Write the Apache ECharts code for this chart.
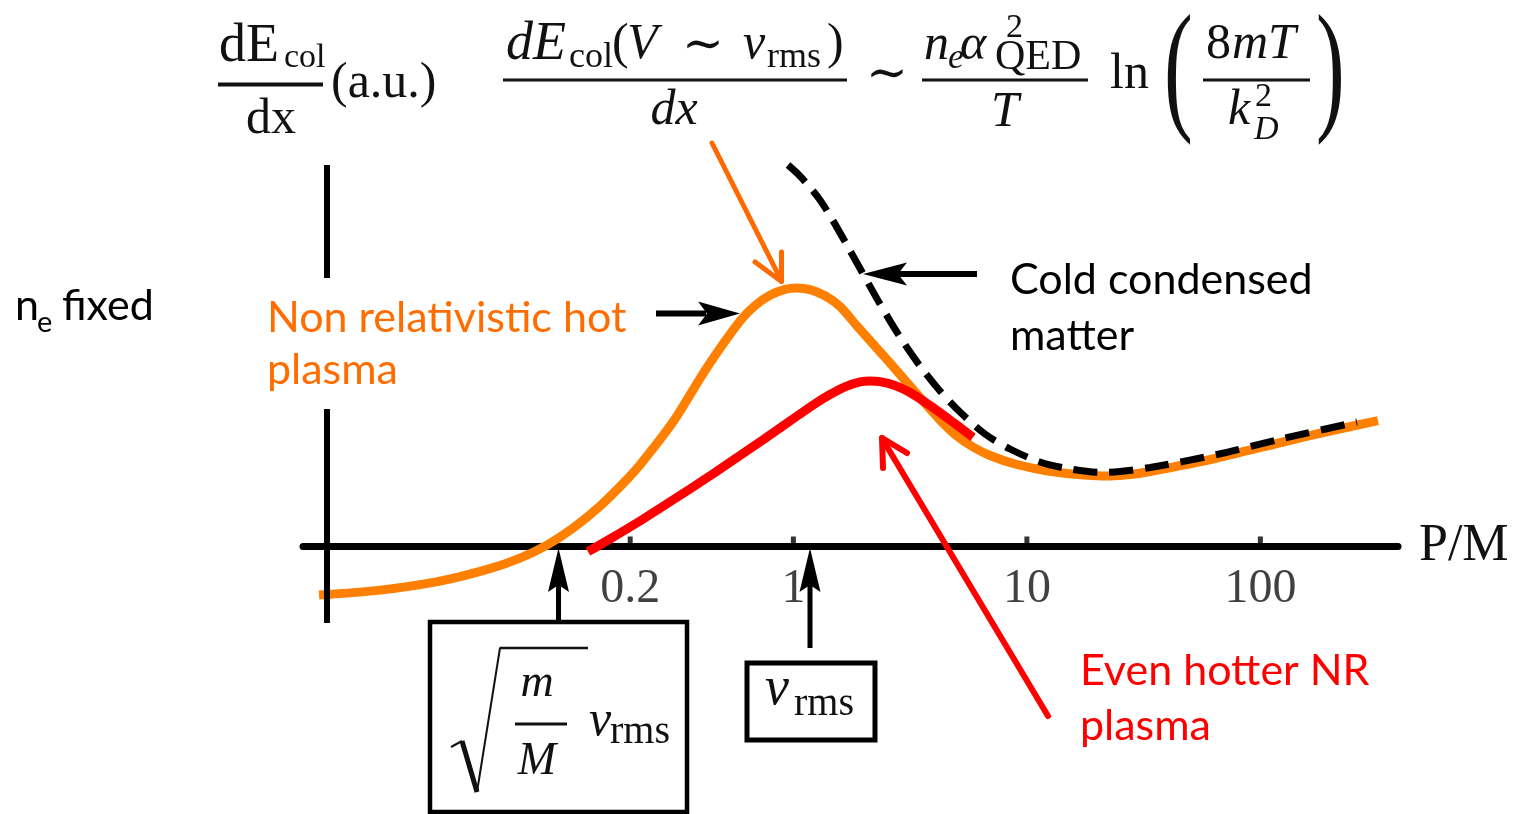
<!DOCTYPE html>
<html>
<head>
<meta charset="utf-8">
<script src="https://cdn.jsdelivr.net/npm/echarts@6/dist/echarts.min.js"></script>
<style>
  html, body { margin: 0; padding: 0; background: #ffffff; }
  #chart { width: 1514px; height: 814px; }
</style>
</head>
<body>
<div id="chart"></div>
<script>
// Collisional energy loss dE/dx (arbitrary units) versus P/M, electron density fixed.

// Non relativistic hot plasma
const hotPm   = [0.00930, 0.01697, 0.03065, 0.05018, 0.06748, 0.08805, 0.11375, 0.14848, 0.18634, 0.22029,
                 0.30506, 0.42658, 0.59049, 0.68468, 0.79393, 0.92056, 1.0361, 1.1778, 1.3656, 1.5833,
                 1.8725, 2.5929, 3.5894, 4.2453, 5.0192, 5.8773, 6.9494, 8.8923, 11.955, 16.069,
                 21.181, 27.642, 33.674, 65.183, 124.98, 198.69, 318.92];
const hotLoss = [-0.485, -0.436, -0.346, -0.221, -0.116, 0.014, 0.183, 0.404, 0.630, 0.817,
                 1.246, 1.790, 2.255, 2.409, 2.512, 2.571, 2.585, 2.568, 2.507, 2.400,
                 2.205, 1.835, 1.455, 1.265, 1.105, 0.995, 0.910, 0.825, 0.760, 0.722,
                 0.705, 0.720, 0.750, 0.885, 1.045, 1.155, 1.258];

// Even hotter non relativistic plasma
const hotterPm   = [0.13192, 0.16389, 0.22030, 0.28191, 0.36072, 0.46154, 0.59049, 0.75535, 0.96702, 1.2375,
                    1.4352, 1.6634, 1.9287, 2.1283, 2.3494, 2.7236, 3.1578, 3.8463, 4.6851, 5.8773];
const hotterLoss = [-0.052, 0.075, 0.255, 0.415, 0.575, 0.740, 0.910, 1.080, 1.255, 1.428,
                    1.520, 1.597, 1.646, 1.656, 1.649, 1.611, 1.540, 1.410, 1.265, 1.092];

// Cold condensed matter
const coldPm   = [0.94811, 1.0464, 1.1548, 1.2999, 1.4638, 1.7133, 1.9671, 2.3494, 2.8608, 3.4847,
                  4.2453, 5.1698, 6.6153, 8.4647, 11.377, 15.296, 21.181, 33.674, 65.183, 124.98, 259.32];
const coldLoss = [3.815, 3.725, 3.615, 3.465, 3.275, 2.995, 2.745, 2.425, 2.095, 1.805,
                  1.555, 1.345, 1.125, 0.975, 0.845, 0.775, 0.740, 0.790, 0.920, 1.080, 1.245];

// Axis ticks
const tickValues = [0.2, 1, 10, 100];
const tickLabels = ['0.2', '1', '10', '100'];

// Axis extents
const xMin = 0.007939, xMax = 388.5;
const yMin = -0.765, yMax = 3.815;
const yAxisAt = 0.01;

const zip = (xs, ys) => xs.map((x, i) => [x, ys[i]]);

const SERIF = '"Liberation Serif", "DejaVu Serif", serif';
const SANS = 'Lato, "Open Sans", sans-serif';
const ORANGE = '#FF8000';
const ORANGE_TEXT = '#FF6D00';
const RED = '#FF0000';
const INK = '#111111';

function txt(x, y, text, font, color, extra) {
  const el = {
    type: 'text', z: 60, silent: true, x: x, y: y,
    style: Object.assign({
      x: 0, y: 0, text: text, font: font, fill: color || INK,
      align: 'left', textAlign: 'left',
      verticalAlign: 'middle', textVerticalAlign: 'middle'
    }, (extra && extra.style) || {})
  };
  if (extra) {
    ['scaleX', 'scaleY', 'z'].forEach(k => { if (extra[k] !== undefined) el[k] = extra[k]; });
  }
  return el;
}
function seg(x1, y1, x2, y2, color, w, cap) {
  return { type: 'line', z: 50, silent: true, shape: { x1, y1, x2, y2 },
           style: { stroke: color, lineWidth: w, lineCap: cap || 'butt' } };
}
function head(points, color) {
  return { type: 'polygon', z: 50, silent: true, shape: { points: points }, style: { fill: color } };
}
function box(x, y, w, h, lw) {
  return { type: 'rect', z: 50, silent: true, shape: { x, y, width: w, height: h },
           style: { fill: 'none', stroke: '#000', lineWidth: lw } };
}
const centered = { style: { align: 'center', textAlign: 'center' } };

const I50 = 'italic 50px ' + SERIF;
const I54 = 'italic 54px ' + SERIF;
const R50 = '50px ' + SERIF;
const R36 = '36px ' + SERIF;
const I36 = 'italic 36px ' + SERIF;
const LABEL = '43px ' + SANS;

const graphics = [
  // vertical-axis label
  txt(219, 47, 'dE', '54px ' + SERIF),
  txt(284, 58, 'col', '34px ' + SERIF),
  seg(218, 84.5, 323, 84.5, INK, 4),
  txt(271, 120, 'dx', R50, INK, centered),
  txt(331, 84, '(a.u.)', R50),

  // dE_col(V ~ v_rms)/dx
  txt(506, 45, 'dE', I54),
  txt(569, 58, 'col', R36),
  txt(612, 45, '(', R50),
  txt(627, 45, 'V', I50),
  txt(682, 47, '\u223C', R50),
  txt(743, 45, 'v', I50),
  txt(767, 58, 'rms', R36),
  txt(827, 45, ')', R50),
  seg(503, 80, 847, 80, INK, 3),
  txt(674, 111, 'dx', I50, INK, centered),
  txt(866, 76, '\u223C', R50),
  // n_e alpha^2_QED / T
  txt(924, 46, 'n', I50),
  txt(948, 59, 'e', I36),
  txt(960, 46, '\u03B1', I50),
  txt(1006, 28, '2', '34px ' + SERIF),
  txt(995, 58, 'QED', '42px ' + SERIF),
  seg(922, 80, 1088, 80, INK, 3),
  txt(1005, 113, 'T', I50, INK, centered),
  txt(1110, 75, 'ln', R50),
  // ln(8mT / k_D^2)
  txt(1164, 76, '(', '144px ' + SERIF, INK, { scaleX: 0.6 }),
  txt(1316, 76, ')', '144px ' + SERIF, INK, { scaleX: 0.6 }),
  txt(1206, 45, '8', R50),
  txt(1232, 45, 'mT', I50),
  seg(1203, 80, 1310, 80, INK, 3),
  txt(1228, 111, 'k', I50),
  txt(1255, 97, '2', '34px ' + SERIF),
  txt(1254, 130, 'D', 'italic 34px ' + SERIF),

  // density note
  txt(15, 306, 'n', LABEL, '#000'),
  txt(37, 323, 'e', '29px ' + SANS, '#000'),
  txt(62, 306, 'fixed', LABEL, '#000'),

  // curve labels
  { type: 'text', z: 70, silent: true, x: 261, y: 278,
    style: { x: 0, y: 0, text: 'Non relativistic hot\nplasma', font: LABEL, fill: ORANGE_TEXT,
             lineHeight: 52, align: 'left', textAlign: 'left', verticalAlign: 'top', textVerticalAlign: 'top',
             backgroundColor: '#ffffff', padding: [14, 6, 13, 6] } },
  { type: 'text', z: 60, silent: true, x: 1010, y: 252,
    style: { x: 0, y: 0, text: 'Cold condensed\nmatter', font: LABEL, fill: '#000',
             lineHeight: 56, align: 'left', textAlign: 'left', verticalAlign: 'top', textVerticalAlign: 'top' } },
  { type: 'text', z: 60, silent: true, x: 1080, y: 644,
    style: { x: 0, y: 0, text: 'Even hotter NR\nplasma', font: LABEL, fill: RED,
             lineHeight: 55, align: 'left', textAlign: 'left', verticalAlign: 'top', textVerticalAlign: 'top' } },

  // pointer arrows
  seg(656, 313.5, 706, 313.5, '#000', 6),
  head([[740, 313.5], [698, 301.5], [707, 313.5], [698, 325.5]], '#000'),
  seg(977, 274, 898, 274, '#000', 6),
  head([[863, 274], [907, 262.5], [898, 274], [907, 285.5]], '#000'),
  seg(712, 143, 781, 280, '#FF6A00', 5, 'round'),
  seg(781.5, 281.5, 755, 262, '#FF6A00', 5, 'round'),
  seg(781.5, 281.5, 781.5, 252, '#FF6A00', 5, 'round'),
  seg(1048, 716, 883, 440, RED, 6, 'round'),
  seg(882, 438, 883, 468, RED, 6, 'round'),
  seg(882, 438, 907, 453, RED, 6, 'round'),

  // velocity markers
  seg(558.5, 622, 558.5, 585, '#000', 5),
  head([[558.5, 548], [548, 592], [558.5, 585], [569, 592]], '#000'),
  seg(810, 648, 810, 585, '#000', 5),
  head([[810, 548], [799.5, 592], [810, 585], [820.5, 592]], '#000'),

  box(430, 622, 257, 190, 4.5),
  seg(451, 747, 462, 741, INK, 2),
  seg(462, 741, 477, 792, INK, 5),
  seg(477, 792, 500, 648, INK, 2),
  seg(499.5, 648, 588, 648, INK, 2.5),
  txt(537, 684, 'm', 'italic 46px ' + SERIF, INK, centered),
  seg(515, 724, 567, 724, INK, 3),
  txt(537, 762, 'M', 'italic 46px ' + SERIF, INK, centered),
  txt(589, 722, 'v', I50),
  txt(610, 732, 'rms', '40px ' + SERIF),

  box(747, 663, 128, 77, 5),
  txt(765, 690, 'v', 'italic 54px ' + SERIF),
  txt(794, 704, 'rms', '40px ' + SERIF)
];

const chart = echarts.init(document.getElementById('chart'), null, { renderer: 'canvas' });
chart.setOption({
  animation: false,
  backgroundColor: '#ffffff',
  grid: { left: 303, right: 116, top: 165, bottom: 191 },
  xAxis: {
    type: 'log', logBase: 10, min: xMin, max: xMax,
    name: 'P/M', nameLocation: 'end', nameGap: 21,
    nameTextStyle: { fontFamily: SERIF, fontSize: 52, color: INK, verticalAlign: 'middle' },
    axisLine: { onZero: true, lineStyle: { color: '#000', width: 7 } },
    axisTick: { show: false }, axisLabel: { show: false }, splitLine: { show: false }
  },
  yAxis: {
    type: 'value', min: yMin, max: yMax,
    axisLine: { show: false }, axisTick: { show: false }, axisLabel: { show: false }, splitLine: { show: false }
  },
  series: [
    {
      name: 'Non relativistic hot plasma', type: 'line', data: zip(hotPm, hotLoss),
      smooth: 0.3, symbol: 'none', z: 3,
      lineStyle: { color: ORANGE, width: 9 },
      markLine: {
        silent: true, symbol: 'none', label: { show: false },
        lineStyle: { color: '#000', width: 6, type: 'solid' },
        data: [{ xAxis: yAxisAt }]
      }
    },
    {
      name: 'Cold condensed matter', type: 'line', data: zip(coldPm, coldLoss),
      smooth: 0.3, symbol: 'none', z: 4,
      lineStyle: { color: '#000', width: 7, type: [24, 12] }
    },
    {
      name: 'Even hotter NR plasma', type: 'line', data: zip(hotterPm, hotterLoss),
      smooth: 0.3, symbol: 'none', z: 5,
      lineStyle: { color: RED, width: 9 }
    },
    {
      name: 'ticks', type: 'scatter', data: tickValues.map(v => [v, 0]),
      symbol: 'rect', symbolSize: [5, 10], symbolOffset: [0, -5], z: 6, silent: true,
      itemStyle: { color: '#000' },
      label: {
        show: true, position: 'inside', offset: [0, 48],
        formatter: (p) => tickLabels[p.dataIndex],
        fontFamily: SERIF, fontSize: 48, color: INK
      }
    }
  ],
  graphic: { elements: graphics }
});
</script>
</body>
</html>
